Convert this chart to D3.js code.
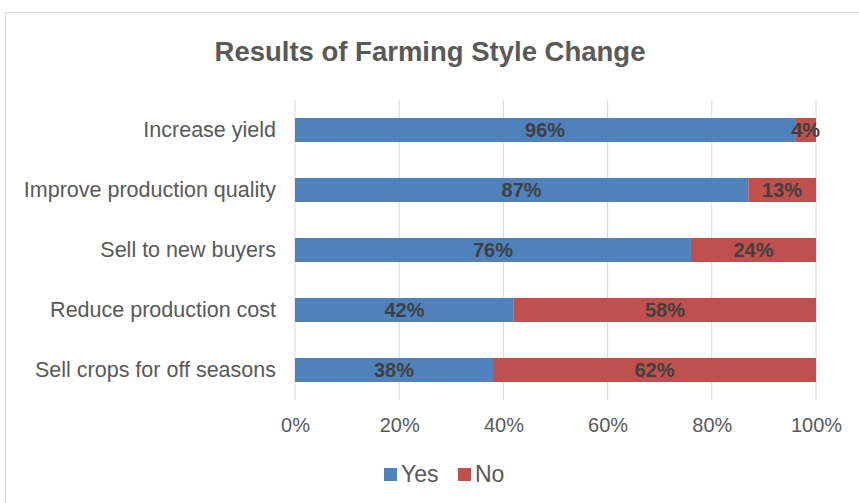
<!DOCTYPE html>
<html>
<head>
<meta charset="utf-8">
<script src="https://cdnjs.cloudflare.com/ajax/libs/d3/7.8.5/d3.min.js"></script>
<style>
  body { margin: 0; background: #fff; }
  text { font-family: "Liberation Sans", Arial, sans-serif; }
</style>
</head>
<body>
<svg id="chart"></svg>
<script>
const categories = ["Increase yield", "Improve production quality", "Sell to new buyers", "Reduce production cost", "Sell crops for off seasons"];
const yesValues = [96, 87, 76, 42, 38];
const noValues = [4, 13, 24, 58, 62];
const seriesNames = ["Yes", "No"];
const tickValues = [0, 20, 40, 60, 80, 100];

const width = 859;
const height = 503;
const margin = { top: 100, right: 43, bottom: 103, left: 295 };

const svg = d3.select("#chart")
    .attr("width", width)
    .attr("height", height);

const colorScale = d3.scaleOrdinal()
    .domain(seriesNames)
    .range(["#4f81bd", "#c0504d"]);

// khung ngoài
svg.append("rect")
    .attr("x", 5.5).attr("y", 12.5)
    .attr("width", width + 10).attr("height", height + 10)
    .attr("fill", "#fff")
    .attr("stroke", "#d9d9d9");

const x = d3.scaleLinear()
    .domain([0, 100])
    .range([margin.left, width - margin.right]);

const y = d3.scaleBand()
    .domain(categories)
    .range([margin.top, height - margin.bottom])
    .paddingInner(0.6)
    .paddingOuter(0.3);

// lưới dọc
svg.append("g")
    .selectAll("line")
    .data(tickValues)
    .join("line")
    .attr("x1", d => x(d)).attr("x2", d => x(d))
    .attr("y1", margin.top).attr("y2", height - margin.bottom)
    .attr("stroke", "#d9d9d9")
    .attr("stroke-width", 1);

// trục x (chỉ nhãn)
const xAxis = svg.append("g")
    .attr("transform", `translate(0, ${height - margin.bottom})`)
    .call(d3.axisBottom(x).tickValues(tickValues).tickFormat(d => d + "%").tickSize(0).tickPadding(18));
xAxis.select(".domain").remove();
xAxis.selectAll("text")
    .style("font-size", "20px")
    .style("font-family", "'Liberation Sans', Arial, sans-serif")
    .attr("fill", "#595959");

// trục y (chỉ nhãn)
const yAxis = svg.append("g")
    .attr("transform", `translate(${margin.left}, 0)`)
    .call(d3.axisLeft(y).tickSize(0).tickPadding(19));
yAxis.select(".domain").remove();
yAxis.selectAll("text")
    .style("font-size", "21.5px")
    .style("font-family", "'Liberation Sans', Arial, sans-serif")
    .attr("fill", "#595959");

// dữ liệu xếp chồng
const rows = categories.map((c, i) => ({ category: c, Yes: yesValues[i], No: noValues[i] }));
const stacked = d3.stack().keys(seriesNames)(rows);

const layers = svg.append("g")
    .selectAll("g")
    .data(stacked)
    .join("g")
    .attr("fill", d => colorScale(d.key));

layers.selectAll("rect")
    .data(d => d)
    .join("rect")
    .attr("x", d => x(d[0]))
    .attr("width", d => x(d[1]) - x(d[0]))
    .attr("y", d => y(d.data.category))
    .attr("height", y.bandwidth());

// nhãn giá trị
layers.each(function(layer) {
    d3.select(this).selectAll("text")
        .data(layer)
        .join("text")
        .attr("x", d => (x(d[0]) + x(d[1])) / 2)
        .attr("y", d => y(d.data.category) + y.bandwidth() / 2)
        .attr("dy", "0.36em")
        .attr("text-anchor", "middle")
        .attr("fill", "#404040")
        .style("font-size", "20px")
        .style("font-weight", "bold")
        .text(d => (d[1] - d[0]) + "%");
});

// tiêu đề
svg.append("text")
    .attr("x", 430)
    .attr("y", 61)
    .attr("text-anchor", "middle")
    .attr("fill", "#595959")
    .style("font-size", "27.5px")
    .style("font-weight", "bold")
    .text("Results of Farming Style Change");

// chú thích
const legend = svg.append("g")
    .attr("transform", `translate(384, 474)`);

seriesNames.forEach((name, i) => {
    const g = legend.append("g").attr("transform", `translate(${i * 74}, 0)`);
    g.append("rect")
        .attr("x", 0).attr("y", -6)
        .attr("width", 13).attr("height", 13)
        .attr("fill", colorScale(name));
    g.append("text")
        .attr("x", 17)
        .attr("y", 0)
        .attr("dy", "0.36em")
        .attr("fill", "#595959")
        .style("font-size", "23px")
        .text(name);
});
</script>
</body>
</html>
